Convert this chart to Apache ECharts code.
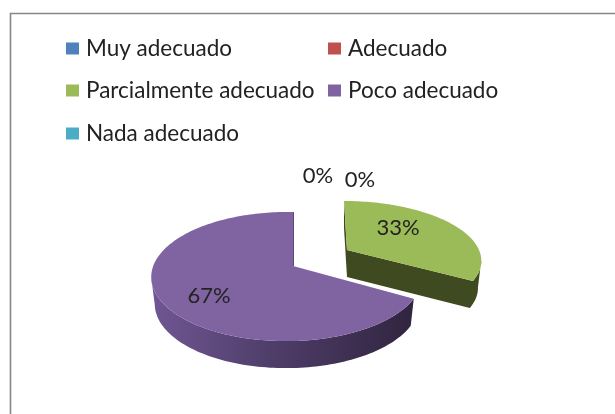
<!DOCTYPE html>
<html>
<head>
<meta charset="utf-8">
<style>html,body{margin:0;padding:0;background:#fff}#c{width:615px;height:414px}</style>
<script src="https://cdn.jsdelivr.net/npm/echarts@6/dist/echarts.min.js"></script>
</head>
<body>
<div id="c"></div>
<script>
var categories = ['Muy adecuado', 'Adecuado', 'Parcialmente adecuado', 'Poco adecuado', 'Nada adecuado'];
var values = [0, 0, 33.33, 66.67, 0];
var percentLabels = ['0%', '0%', '33%', '67%', ''];
var colors = ['#4f81bd', '#c0504d', '#9bbb59', '#8064a2', '#4bacc6'];

// drawing styles
var FONT = 'Lato';
var TEXT = '#222222';
var DEPTH = 27, BOTTOM_SCALE = 0.975;
var baseView = { cx: 293, cy: 266, rx: 133.5, ry: 62.8, p: 0.163, q: 0.045, shear: 0 };
var views = { 2: { cx: 347, cy: 250, rx: 132, ry: 57, p: 0.163, q: 0, shear: 3 } };
var wallStops = {
  2: [[0, '#3f4a20'], [1, '#3f4a20']],
  3: [[0, '#705693'], [0.45, '#4f3e6a'], [1, '#31243f']]
};
var cutEdge = { 3: '#5f4a7c' };
var labelShift = { 0: [67, -86], 1: [25, -90], 2: [51, -22], 3: [-84, 30], 4: [0, 0] };
var legendPos = [[66, 37], [328, 37], [66, 79], [328, 79], [66, 122]];

var total = values.reduce(function (a, b) { return a + b; }, 0);
var starts = [];
values.reduce(function (acc, v, i) { starts[i] = acc; return acc + v; }, 0);

function project(view, u, v, dy, sx) {
  var w = 1 - view.p * v + view.q * u;
  return [view.cx + (view.rx * sx * u / w) + view.shear * v, view.cy + view.ry * v / w + dy];
}

function renderSlice(idx) {
  return function (params, api) {
    var value = api.value(0);
    var view = views[idx] || baseView;
    var children = [];
    if (value > 0) {
      var a0 = starts[idx] / total * 2 * Math.PI;
      var a1 = (starts[idx] + value) / total * 2 * Math.PI;
      var n = Math.ceil((a1 - a0) * 40);
      var rimDisk = [];
      for (var k = 0; k <= n; k++) {
        var a = a0 + (a1 - a0) * k / n;
        rimDisk.push([Math.sin(a), -Math.cos(a)]);
      }
      var outline = [[0, 0]].concat(rimDisk);
      var top = outline.map(function (p) { return project(view, p[0], p[1], 0, 1); });
      var bot = outline.map(function (p) { return project(view, p[0], p[1], DEPTH, BOTTOM_SCALE); });
      var stops = wallStops[idx].map(function (s) { return { offset: s[0], color: s[1] }; });
      var xs = top.map(function (p) { return p[0]; });
      var minX = Math.min.apply(null, xs), maxX = Math.max.apply(null, xs);
      var fill = new echarts.graphic.LinearGradient(minX, 0, maxX, 0, stops, true);
      var m = outline.length;
      var run = null;
      var flush = function () {
        if (run) {
          var pts = run.t.concat(run.b.reverse());
          children.push({ type: 'polygon', shape: { points: pts }, style: { fill: fill } });
          run = null;
        }
      };
      for (var i = 0; i < m; i++) {
        var j = (i + 1) % m;
        if (top[j][0] - top[i][0] < 0) {
          if (!run) run = { t: [top[i]], b: [bot[i]] };
          run.t.push(top[j]);
          run.b.push(bot[j]);
        } else {
          flush();
        }
      }
      flush();
      children.push({ type: 'polygon', shape: { points: top }, style: { fill: colors[idx] } });
      if (cutEdge[idx]) {
        children.push({
          type: 'line',
          shape: { x1: top[0][0] + 0.5, y1: top[0][1], x2: top[m - 1][0] + 0.5, y2: top[m - 1][1] },
          style: { stroke: cutEdge[idx], lineWidth: 1 }
        });
      }
    }
    if (percentLabels[idx]) {
      var anchor = project(view, 0, 0, 0, 1);
      var shift = labelShift[idx];
      children.push({
        type: 'text',
        z2: 10,
        style: {
          x: anchor[0] + shift[0], y: anchor[1] + shift[1],
          text: percentLabels[idx], fill: TEXT,
          font: '22px ' + FONT, align: 'center', verticalAlign: 'middle'
        }
      });
    }
    return { type: 'group', children: children };
  };
}

var order = [3, 2, 0, 1, 4];
var option = {
  animation: false,
  backgroundColor: '#ffffff',
  graphic: [
    { type: 'rect', silent: true, z: 0, shape: { x: 10.5, y: 13.5, width: 700, height: 500 },
      style: { fill: '#ffffff', stroke: '#868686', lineWidth: 1.6 } }
  ],
  legend: categories.map(function (name, i) {
    return {
      data: [name], left: legendPos[i][0], top: legendPos[i][1], padding: 0,
      itemWidth: 13, itemHeight: 12, icon: 'rect', selectedMode: false,
      textStyle: { fontFamily: FONT, fontSize: 22.5, color: TEXT, padding: [0, 0, 0, 2] }
    };
  }),
  series: order.map(function (i) {
    return {
      type: 'custom', name: categories[i], coordinateSystem: 'none', silent: true,
      itemStyle: { color: colors[i] },
      renderItem: renderSlice(i),
      data: [[values[i]]]
    };
  })
};
var chart = echarts.init(document.getElementById('c'), null, { renderer: 'canvas' });
chart.setOption(option);
</script>
</body>
</html>
